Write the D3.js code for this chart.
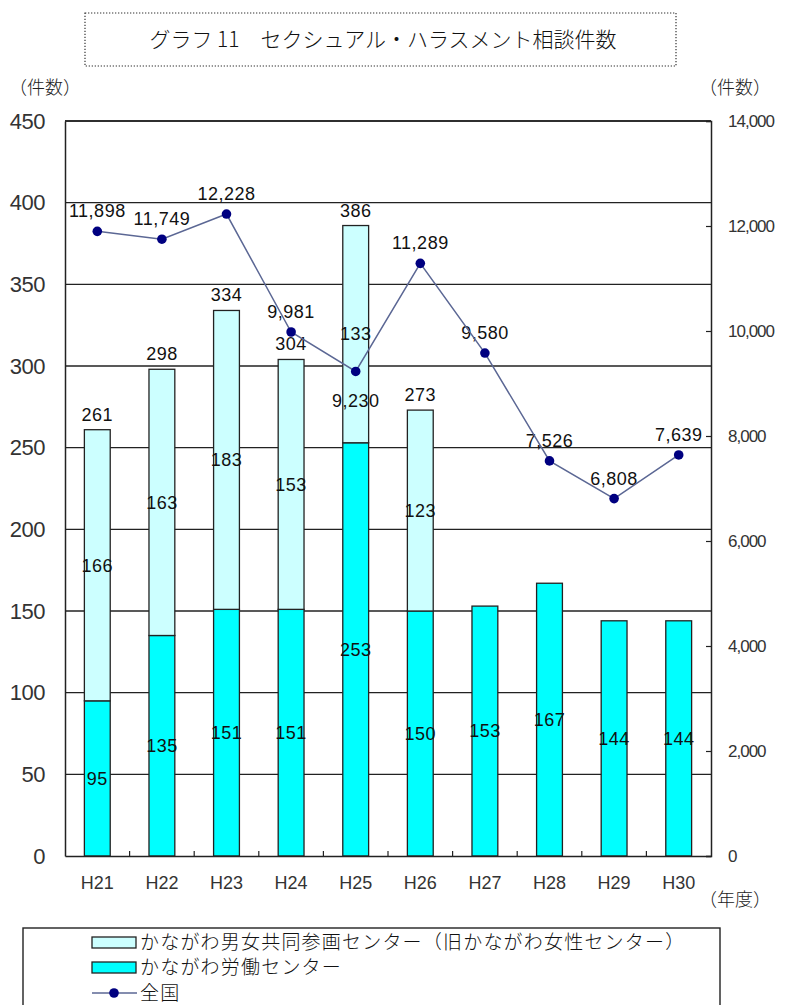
<!DOCTYPE html>
<html lang="ja">
<head>
<meta charset="utf-8">
<script src="https://cdn.jsdelivr.net/npm/d3@7"></script>
<style>
  html, body { margin: 0; padding: 0; background: #fff; }
  svg { display: block; }
  text { font-family: "Liberation Sans", Arial, "Noto Sans CJK JP", sans-serif; }
  .jp { font-family: "Noto Sans CJK JP", "Noto Sans CJK SC", sans-serif; }
</style>
</head>
<body>
<svg id="chart" width="787" height="1005"></svg>
<script>
// ---- data ----
const years = ["H21", "H22", "H23", "H24", "H25", "H26", "H27", "H28", "H29", "H30"];
const roudou = [95, 135, 151, 151, 253, 150, 153, 167, 144, 144];          // かながわ労働センター
const danjo = [166, 163, 183, 153, 133, 123, null, null, null, null];       // かながわ男女共同参画センター
const zenkoku = [11898, 11749, 12228, 9981, 9230, 11289, 9580, 7526, 6808, 7639]; // 全国
const zenkokuLabelSide = ["above", "above", "above", "above", "below", "above", "above", "above", "above", "above"];
const leftTicks = [0, 50, 100, 150, 200, 250, 300, 350, 400, 450];
const rightTicks = [0, 2000, 4000, 6000, 8000, 10000, 12000, 14000];
const titleText = "グラフ 11\u3000セクシュアル・ハラスメント相談件数";
const legendLabels = [
  "かながわ男女共同参画センター（旧かながわ女性センター）",
  "かながわ労働センター",
  "全国"
];

// ---- layout ----
const svg = d3.select("#chart");
const L = 65, R = 711, T = 121, B = 856;
const colLight = "#ccffff", colDark = "#00ffff", stroke = "#222";
const lineCol = "#5b6794", markerCol = "#000080";

const x = d3.scaleBand().domain(years).range([L, R]).paddingInner(0.6).paddingOuter(0.3);
const yL = d3.scaleLinear().domain([0, 450]).range([B, T]);
const yR = d3.scaleLinear().domain([0, 14000]).range([B, T]);
const cx = d => x(d) + x.bandwidth() / 2;

svg.append("rect").attr("width", 787).attr("height", 1005).attr("fill", "#fff");

// title box
svg.append("rect").attr("x", 85).attr("y", 13).attr("width", 591).attr("height", 53)
  .attr("fill", "none").attr("stroke", "#333").attr("stroke-width", 1.2).attr("stroke-dasharray", "1.3,1.7");
svg.append("text").attr("class", "jp").attr("x", 383).attr("y", 47).attr("text-anchor", "middle")
  .attr("font-size", 21).attr("font-weight", 300).attr("fill", "#111").text(titleText);

// unit labels
svg.append("text").attr("class", "jp").attr("x", 9).attr("y", 94).attr("font-size", 18).attr("font-weight", 300).attr("fill", "#222").text("（件数）");
svg.append("text").attr("class", "jp").attr("x", 699).attr("y", 94).attr("font-size", 18).attr("font-weight", 300).attr("fill", "#222").text("（件数）");
svg.append("text").attr("class", "jp").attr("x", 699).attr("y", 906).attr("font-size", 18).attr("font-weight", 300).attr("fill", "#222").text("（年度）");

// gridlines
svg.append("g").selectAll("line").data(leftTicks.filter(v => v > 0)).join("line")
  .attr("x1", L).attr("x2", R).attr("y1", d => yL(d)).attr("y2", d => yL(d))
  .attr("stroke", stroke).attr("stroke-width", 1.4);

// bars
const rows = years.map((yr, i) => ({ yr, a: roudou[i], b: danjo[i] }));
const gb = svg.append("g");
gb.selectAll("rect.low").data(rows).join("rect").attr("class", "low")
  .attr("x", d => x(d.yr)).attr("width", x.bandwidth())
  .attr("y", d => yL(d.a)).attr("height", d => yL(0) - yL(d.a))
  .attr("fill", colDark).attr("stroke", stroke).attr("stroke-width", 1.3);
gb.selectAll("rect.up").data(rows.filter(d => d.b != null)).join("rect").attr("class", "up")
  .attr("x", d => x(d.yr)).attr("width", x.bandwidth())
  .attr("y", d => yL(d.a + d.b)).attr("height", d => yL(d.a) - yL(d.a + d.b))
  .attr("fill", colLight).attr("stroke", stroke).attr("stroke-width", 1.3);

// axes
const axL = svg.append("g").attr("transform", `translate(${L},0)`)
  .call(d3.axisLeft(yL).tickValues(leftTicks).tickSize(0).tickPadding(20));
axL.select(".domain").attr("stroke", stroke).attr("stroke-width", 1.5);
axL.selectAll("text").attr("font-size", 22).attr("fill", "#333").attr("letter-spacing", "-0.5px")
  .attr("font-family", "Liberation Sans, Arial, sans-serif");

const axR = svg.append("g").attr("transform", `translate(${R},0)`)
  .call(d3.axisRight(yR).tickValues(rightTicks).tickSize(-5).tickPadding(17).tickFormat(d3.format(",")));
axR.select(".domain").attr("stroke", stroke).attr("stroke-width", 1.5);
axR.selectAll(".tick line").attr("stroke", stroke).attr("stroke-width", 1.2);
axR.selectAll("text").attr("font-size", 17).attr("fill", "#333").attr("letter-spacing", "-1px")
  .attr("font-family", "Liberation Sans, Arial, sans-serif");

const axB = svg.append("g").attr("transform", `translate(0,${B})`)
  .call(d3.axisBottom(x).tickSize(0).tickPadding(20));
axB.select(".domain").attr("stroke", stroke).attr("stroke-width", 1.5);
axB.selectAll("text").attr("font-size", 18).attr("fill", "#333").attr("font-family", "Liberation Sans, Arial, sans-serif");
// inward category separators
const step = x.step();
svg.append("g").selectAll("line").data(years.slice(1)).join("line")
  .attr("x1", d => x(d) - (step - x.bandwidth()) / 2).attr("x2", d => x(d) - (step - x.bandwidth()) / 2)
  .attr("y1", B).attr("y2", B - 5).attr("stroke", stroke).attr("stroke-width", 1.2);
// top frame
svg.append("line").attr("x1", L).attr("x2", R).attr("y1", T).attr("y2", T).attr("stroke", stroke).attr("stroke-width", 1.5);

// bar labels
const lab = svg.append("g").attr("font-size", 18).attr("fill", "#111").attr("text-anchor", "middle").attr("letter-spacing", "0.5px");
lab.selectAll("text.l").data(rows).join("text").attr("class", "l")
  .attr("x", d => cx(d.yr)).attr("y", d => (yL(0) + yL(d.a)) / 2).attr("dy", "0.35em").text(d => d.a);
lab.selectAll("text.u").data(rows.filter(d => d.b != null)).join("text").attr("class", "u")
  .attr("x", d => cx(d.yr)).attr("y", d => (yL(d.a) + yL(d.a + d.b)) / 2).attr("dy", "0.35em").text(d => d.b);
lab.selectAll("text.t").data(rows.filter(d => d.b != null)).join("text").attr("class", "t")
  .attr("x", d => cx(d.yr)).attr("y", d => yL(d.a + d.b) - 9).text(d => d.a + d.b);

// national line
const pts = years.map((yr, i) => ({ yr, v: zenkoku[i], side: zenkokuLabelSide[i] }));
svg.append("path").datum(pts)
  .attr("d", d3.line().x(d => cx(d.yr)).y(d => yR(d.v)))
  .attr("fill", "none").attr("stroke", lineCol).attr("stroke-width", 1.5);
svg.append("g").selectAll("circle").data(pts).join("circle")
  .attr("cx", d => cx(d.yr)).attr("cy", d => yR(d.v)).attr("r", 4.8).attr("fill", markerCol);
lab.selectAll("text.n").data(pts).join("text").attr("class", "n")
  .attr("x", d => cx(d.yr)).attr("y", d => d.side === "above" ? yR(d.v) - 14 : yR(d.v) + 36)
  .text(d => d3.format(",")(d.v));

// legend
const lg = svg.append("g");
lg.append("rect").attr("x", 23).attr("y", 928).attr("width", 697).attr("height", 100)
  .attr("fill", "#fff").attr("stroke", stroke).attr("stroke-width", 1.4);
const legendRows = [
  { y: 942, type: "rect", fill: colLight },
  { y: 967, type: "rect", fill: colDark },
  { y: 993, type: "line" }
];
legendRows.forEach((r, i) => {
  if (r.type === "rect") {
    lg.append("rect").attr("x", 92).attr("y", r.y - 5).attr("width", 44).attr("height", 11)
      .attr("fill", r.fill).attr("stroke", stroke).attr("stroke-width", 1.3);
  } else {
    lg.append("line").attr("x1", 92).attr("x2", 137).attr("y1", r.y).attr("y2", r.y).attr("stroke", lineCol).attr("stroke-width", 1.5);
    lg.append("circle").attr("cx", 114).attr("cy", r.y).attr("r", 4.8).attr("fill", markerCol);
  }
  lg.append("text").attr("class", "jp").attr("x", 140).attr("y", r.y).attr("dy", "0.36em")
    .attr("font-size", 19).attr("font-weight", 300).attr("letter-spacing", "1.2px").attr("fill", "#111").text(legendLabels[i]);
});
</script>
</body>
</html>
